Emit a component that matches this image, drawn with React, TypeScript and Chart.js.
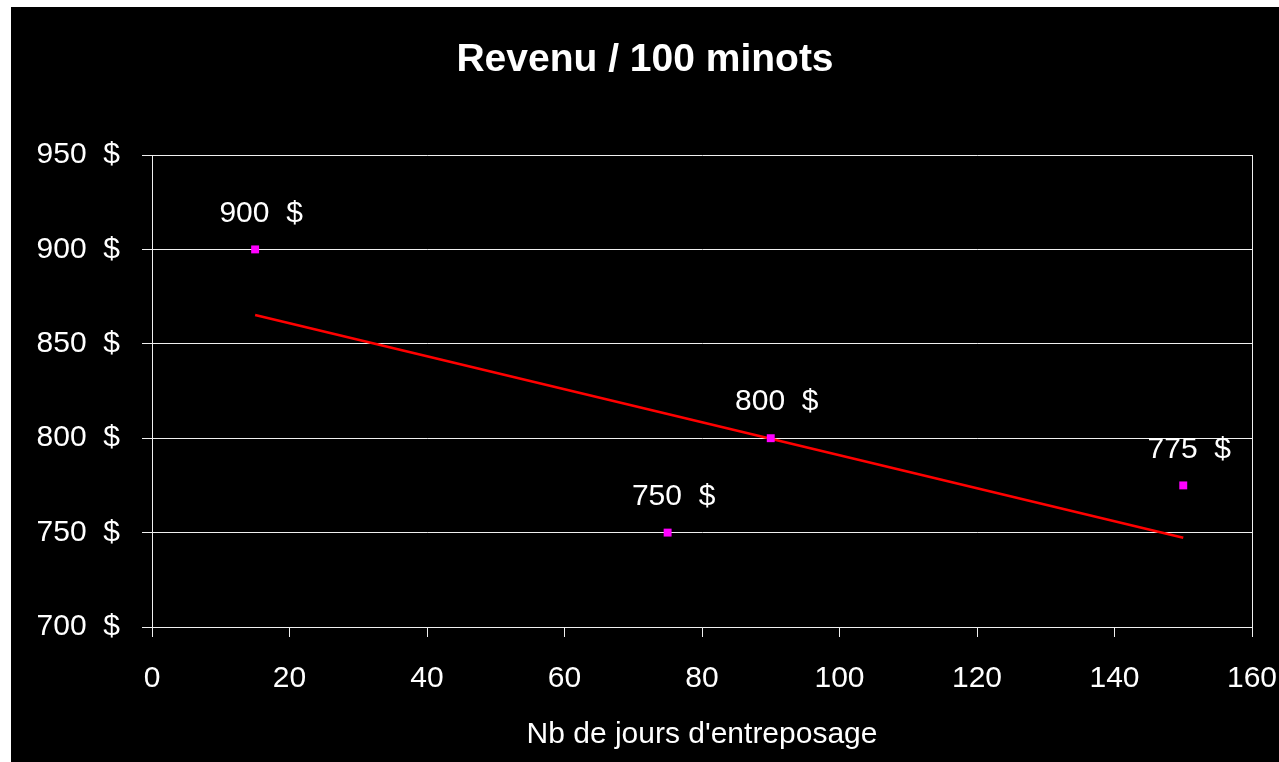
import React, { useEffect, useRef } from 'react';
import { Chart, registerables } from 'chart.js';

Chart.register(...registerables);

const CHART_TITLE = 'Revenu / 100 minots';
const X_TITLE = "Nb de jours d'entreposage";
const storageDays = [15, 75, 90, 150];
const revenue = [900, 750, 800, 775];
const trendDays = [15, 150];
const trendRevenue = [865.2, 747.3];
const xTickValues = [0, 20, 40, 60, 80, 100, 120, 140, 160];
const yTickValues = [700, 750, 800, 850, 900, 950];
const CURRENCY = '  $';

const FONT = "'Liberation Sans', Arial, sans-serif";

const textPlugin = {
  id: 'textPlugin',
  afterDraw(chart: any) {
    const ctx = chart.ctx;
    const area = chart.chartArea;
    ctx.save();
    ctx.fillStyle = '#ffffff';
    ctx.textAlign = 'center';
    ctx.textBaseline = 'middle';
    ctx.font = `bold 39px ${FONT}`;
    ctx.fillText(CHART_TITLE, chart.width / 2, 53);
    ctx.font = `30px ${FONT}`;
    ctx.fillText(X_TITLE, (area.left + area.right) / 2, 728);
    const meta = chart.getDatasetMeta(0);
    meta.data.forEach((pt: any, i: number) => {
      ctx.fillText(revenue[i] + CURRENCY, pt.x + 6, pt.y - 36);
    });
    ctx.restore();
  },
};

export default function App() {
  const ref = useRef<HTMLCanvasElement | null>(null);
  useEffect(() => {
    if (!ref.current) return;
    const chart = new Chart(ref.current, {
      type: 'scatter',
      data: {
        datasets: [
          {
            label: 'Revenu',
            data: storageDays.map((d, i) => ({ x: d, y: revenue[i] })),
            pointStyle: 'rect',
            pointRadius: 5.6,
            backgroundColor: '#ff00ff',
            borderWidth: 0,
            showLine: false,
          },
          {
            label: 'Tendance',
            data: trendDays.map((d, i) => ({ x: d, y: trendRevenue[i] })),
            showLine: true,
            pointRadius: 0,
            borderColor: '#ff0000',
            borderWidth: 2.6,
            fill: false,
          },
        ],
      },
      options: {
        responsive: false,
        animation: false,
        layout: { padding: { top: 148, right: 27, left: 0, bottom: 0 } },
        plugins: {
          legend: { display: false },
          tooltip: { enabled: false },
          title: { display: false },
        },
        scales: {
          x: {
            type: 'linear',
            min: xTickValues[0],
            max: xTickValues[xTickValues.length - 1],
            afterBuildTicks: (s: any) => {
              s.ticks = xTickValues.map((v) => ({ value: v }));
            },
            afterFit: (s: any) => {
              s.height = 135;
              s.paddingRight = 0;
              s.paddingLeft = 0;
            },
            ticks: {
              color: '#ffffff',
              font: { family: FONT, size: 30 },
              padding: 24,
              maxRotation: 0,
              autoSkip: false,
            },
            grid: {
              color: (c: any) =>
                c.tick && c.tick.value === xTickValues[xTickValues.length - 1] ? '#f0f0f0' : 'rgba(0,0,0,0)',
              tickColor: '#f0f0f0',
              tickLength: 10,
              lineWidth: 1,
            },
            border: { color: '#f0f0f0', width: 1 },
          },
          y: {
            type: 'linear',
            min: yTickValues[0],
            max: yTickValues[yTickValues.length - 1],
            afterBuildTicks: (s: any) => {
              s.ticks = yTickValues.map((v) => ({ value: v }));
            },
            afterFit: (s: any) => {
              s.width = 141;
              s.paddingTop = 0;
              s.paddingBottom = 0;
            },
            ticks: {
              color: '#ffffff',
              font: { family: FONT, size: 30 },
              padding: 22,
              autoSkip: false,
              callback: (v: any) => v + CURRENCY,
            },
            grid: {
              color: '#f0f0f0',
              tickColor: '#f0f0f0',
              tickLength: 10,
              lineWidth: 1,
            },
            border: { color: '#f0f0f0', width: 1 },
          },
        },
      },
      plugins: [textPlugin],
    } as any);
    return () => chart.destroy();
  }, []);

  return (
    <div
      style={{
        position: 'absolute',
        left: 11,
        top: 7,
        width: 1268,
        height: 755,
        background: '#000000',
      }}
    >
      <canvas ref={ref} width={1268} height={755} style={{ display: 'block' }} />
    </div>
  );
}
